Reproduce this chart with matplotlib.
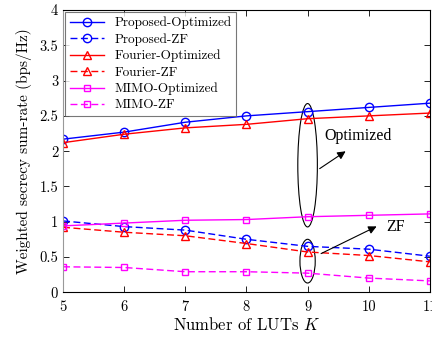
import matplotlib
matplotlib.use("Agg")
import matplotlib.pyplot as plt
from matplotlib.patches import Ellipse

K = [5, 6, 7, 8, 9, 10, 11]
proposed_opt = [2.17, 2.27, 2.41, 2.50, 2.56, 2.62, 2.68]
proposed_zf = [1.01, 0.93, 0.88, 0.75, 0.65, 0.61, 0.51]
fourier_opt = [2.12, 2.24, 2.33, 2.38, 2.46, 2.50, 2.54]
fourier_zf = [0.92, 0.85, 0.80, 0.69, 0.57, 0.52, 0.43]
mimo_opt = [0.94, 0.98, 1.02, 1.03, 1.07, 1.09, 1.11]
mimo_zf = [0.36, 0.35, 0.29, 0.29, 0.27, 0.20, 0.16]

labels = ["Proposed-Optimized", "Proposed-ZF", "Fourier-Optimized",
          "Fourier-ZF", "MIMO-Optimized", "MIMO-ZF"]
yticks = [0, 0.5, 1, 1.5, 2, 2.5, 3, 3.5, 4]
ytick_labels = ["0", "0.5", "1", "1.5", "2", "2.5", "3", "3.5", "4"]

plt.rcParams['font.family'] = ['cmr10']
plt.rcParams['mathtext.fontset'] = 'cm'
plt.rcParams['axes.formatter.use_mathtext'] = True

fig = plt.figure(figsize=(4.32, 3.37), dpi=100)
ax = fig.add_axes([0.146, 0.133, 0.849, 0.837])

lw = 1.0
ms = 6
dash = (5, 2.5)
ax.plot(K, proposed_opt, '-', color='#0000ff', marker='o', mfc='none', ms=ms, lw=lw, label=labels[0])
ax.plot(K, proposed_zf, '--', dashes=dash, color='#0000ff', marker='o', mfc='none', ms=ms, lw=lw, label=labels[1])
ax.plot(K, fourier_opt, '-', color='#ff0000', marker='^', mfc='none', ms=ms, lw=lw, label=labels[2])
ax.plot(K, fourier_zf, '--', dashes=dash, color='#ff0000', marker='^', mfc='none', ms=ms, lw=lw, label=labels[3])
ax.plot(K, mimo_opt, '-', color='#ff00ff', marker='s', mfc='none', ms=5, lw=lw, label=labels[4])
ax.plot(K, mimo_zf, '--', dashes=dash, color='#ff00ff', marker='s', mfc='none', ms=5, lw=lw, label=labels[5])

ax.set_xlim(5, 11)
ax.set_ylim(0, 4)
ax.set_xticks(K)
ax.set_xticklabels([str(k) for k in K])
ax.set_yticks(yticks)
ax.set_yticklabels(ytick_labels)
ax.tick_params(direction='in', top=True, right=True, labelsize=10.5, length=4, width=0.6)
ax.tick_params(axis='x', pad=6)
for s in ax.spines.values():
    s.set_linewidth(0.8)
ax.spines['left'].set_color('#999999')

ax.set_xlabel(r"Number of LUTs $K$", fontsize=12, labelpad=1)
ax.set_ylabel("Weighted secrecy sum-rate (bps/Hz)", fontsize=11, labelpad=5)

leg = ax.legend(loc='upper left', fontsize=9.5, frameon=True, fancybox=False,
                edgecolor='#555555', borderaxespad=0.15, handlelength=2.6,
                labelspacing=0.3, borderpad=0.35)
leg.get_frame().set_linewidth(0.8)

ax.add_patch(Ellipse((9, 1.80), 0.32, 1.75, fill=False, edgecolor='black', lw=0.8))
ax.add_patch(Ellipse((9, 0.44), 0.25, 0.62, fill=False, edgecolor='black', lw=0.8))

ax.annotate("", xy=(9.66, 2.02), xytext=(9.16, 1.73),
            arrowprops=dict(arrowstyle='-|>', color='black', lw=0.8, mutation_scale=12))
ax.annotate("", xy=(10.17, 0.95), xytext=(9.18, 0.53),
            arrowprops=dict(arrowstyle='-|>', color='black', lw=0.8, mutation_scale=12))
ax.text(9.28, 2.21, "Optimized", fontsize=11.5, family=['Liberation Serif'], va='center')
ax.text(10.28, 0.92, "ZF", fontsize=11.5, family=['Liberation Serif'], va='center')

fig.savefig("out.png", dpi=100)
